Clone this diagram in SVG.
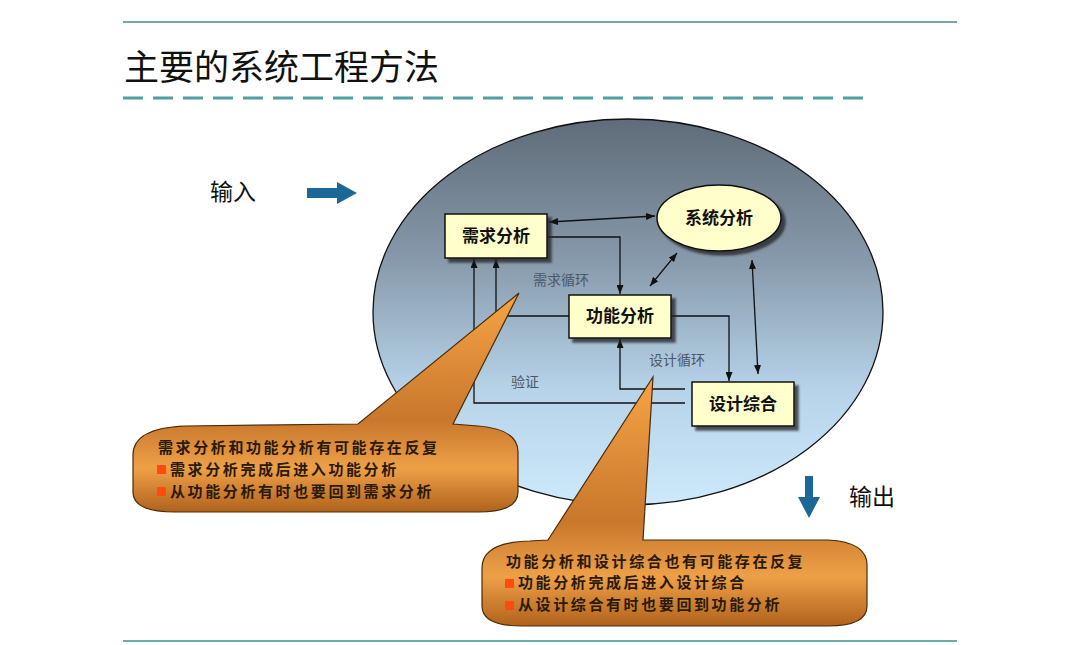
<svg xmlns="http://www.w3.org/2000/svg" width="1080" height="645" viewBox="0 0 1080 645">
<defs>
<style>
.cjk{font-family:"Noto Sans CJK SC","Noto Sans",sans-serif}
.box{fill:#ffffcc;stroke:#111;stroke-width:1.5}
.bt{font-family:"Noto Sans CJK SC",sans-serif;font-size:17px;font-weight:bold;fill:#111;text-anchor:middle}
.ct{font-family:"Noto Sans CJK SC",sans-serif;font-size:15px;font-weight:bold;fill:#2a1a08;letter-spacing:2.6px}
.lbl{font-family:"Noto Sans CJK SC",sans-serif;font-size:14px;fill:#4d5866}
.con{fill:none;stroke:#111;stroke-width:1.3}
.bullet{fill:#ff4a10}
.blue{fill:#1b6898}
.callout{fill:url(#og);stroke:#4a2c08;stroke-width:1.2}
</style>
<linearGradient id="eg" x1="0" y1="0" x2="0" y2="1">
<stop offset="0" stop-color="#5f6c79"/>
<stop offset="0.35" stop-color="#8597a8"/>
<stop offset="0.7" stop-color="#b6d3e9"/>
<stop offset="1" stop-color="#cde9fb"/>
</linearGradient>
<linearGradient id="og" x1="0" y1="0" x2="0" y2="1">
<stop offset="0" stop-color="#f7a446"/>
<stop offset="0.58" stop-color="#c8772c"/>
<stop offset="0.8" stop-color="#eea048"/>
<stop offset="1" stop-color="#b0621c"/>
</linearGradient>
<filter id="sh" x="-10%" y="-10%" width="130%" height="140%">
<feDropShadow dx="4" dy="4" stdDeviation="1.2" flood-color="#222" flood-opacity="0.75"/>
</filter>
<marker id="ah" markerUnits="userSpaceOnUse" markerWidth="9" markerHeight="7" refX="9" refY="3.5" orient="auto-start-reverse">
<path d="M0,0 L9,3.5 L0,7 z" fill="#111"/>
</marker>
</defs>

<rect width="1080" height="645" fill="#ffffff"/>

<g id="header">
<line x1="123" y1="22" x2="957" y2="22" stroke="#3f8e8e" stroke-width="1.5"/>
<text x="124" y="80" class="cjk" font-size="35" fill="#111">主要的系统工程方法</text>
<line x1="123" y1="98" x2="868" y2="98" stroke="#4f9f9f" stroke-width="3" stroke-dasharray="20 10"/>
<line x1="123" y1="641" x2="957" y2="641" stroke="#3f8e8e" stroke-width="1.5"/>
</g>

<g id="system-boundary">
<ellipse cx="628" cy="312" rx="255" ry="193" fill="url(#eg)" stroke="#111" stroke-width="1.3"/>
</g>

<g id="input">
<text x="210" y="200" class="cjk" font-size="23" fill="#111">输入</text>
<polygon class="blue" points="307,188 337,188 337,182 357,193 337,204 337,198 307,198"/>
</g>

<g id="output">
<text x="849" y="505" class="cjk" font-size="23" fill="#111">输出</text>
<polygon class="blue" points="805,476 813,476 813,497 820,497 809,518 798,497 805,497"/>
</g>

<g id="connectors">
<line class="con" x1="549" y1="222" x2="655" y2="216" marker-start="url(#ah)" marker-end="url(#ah)"/>
<polyline class="con" points="547,237 620,237 620,294" marker-end="url(#ah)"/>
<line class="con" x1="677" y1="253" x2="650" y2="286" marker-start="url(#ah)" marker-end="url(#ah)"/>
<line class="con" x1="752" y1="260" x2="758" y2="374" marker-start="url(#ah)" marker-end="url(#ah)"/>
<polyline class="con" points="671,316 729,316 729,381" marker-end="url(#ah)"/>
<polyline class="con" points="685,389 620,389 620,339" marker-end="url(#ah)"/>
<polyline class="con" points="685,403 474,403 474,259" marker-end="url(#ah)"/>
<polyline class="con" points="569,316 496,316 496,259" marker-end="url(#ah)"/>
<text class="lbl" x="533" y="285">需求循环</text>
<text class="lbl" x="649" y="365">设计循环</text>
<text class="lbl" x="511" y="387">验证</text>
</g>

<g id="node-requirements">
<rect class="box" x="445" y="214" width="102" height="44" filter="url(#sh)"/>
<text class="bt" x="496" y="242">需求分析</text>
</g>

<g id="node-system">
<ellipse class="box" cx="719" cy="218" rx="62" ry="33" filter="url(#sh)"/>
<text class="bt" x="719" y="224">系统分析</text>
</g>

<g id="node-functional">
<rect class="box" x="569" y="295" width="102" height="43" filter="url(#sh)"/>
<text class="bt" x="620" y="322">功能分析</text>
</g>

<g id="node-design">
<rect class="box" x="692" y="382" width="102" height="44" filter="url(#sh)"/>
<text class="bt" x="743" y="410">设计综合</text>
</g>

<g id="callout-1">
<path class="callout" d="M133,455 Q133,428 185,426 L358,424 L519,293 L453,424 L478,426 Q518,429 518,452 L518,492 Q518,512 478,512 L175,512 Q133,512 133,492 Z"/>
<text class="ct" x="158" y="453">需求分析和功能分析有可能存在反复</text>
<rect class="bullet" x="157" y="465" width="9" height="9"/>
<text class="ct" x="170" y="475">需求分析完成后进入功能分析</text>
<rect class="bullet" x="157" y="487" width="9" height="9"/>
<text class="ct" x="170" y="497">从功能分析有时也要回到需求分析</text>
</g>

<g id="callout-2">
<path class="callout" d="M482,568 Q482,542 530,541 L548,540 L653,377 L643,540 L828,540 Q867,542 867,565 L867,606 Q867,626 828,626 L522,626 Q482,626 482,606 Z"/>
<text class="ct" x="506" y="567">功能分析和设计综合也有可能存在反复</text>
<rect class="bullet" x="505" y="579" width="9" height="9"/>
<text class="ct" x="518" y="588">功能分析完成后进入设计综合</text>
<rect class="bullet" x="505" y="601" width="9" height="9"/>
<text class="ct" x="518" y="610">从设计综合有时也要回到功能分析</text>
</g>
</svg>
